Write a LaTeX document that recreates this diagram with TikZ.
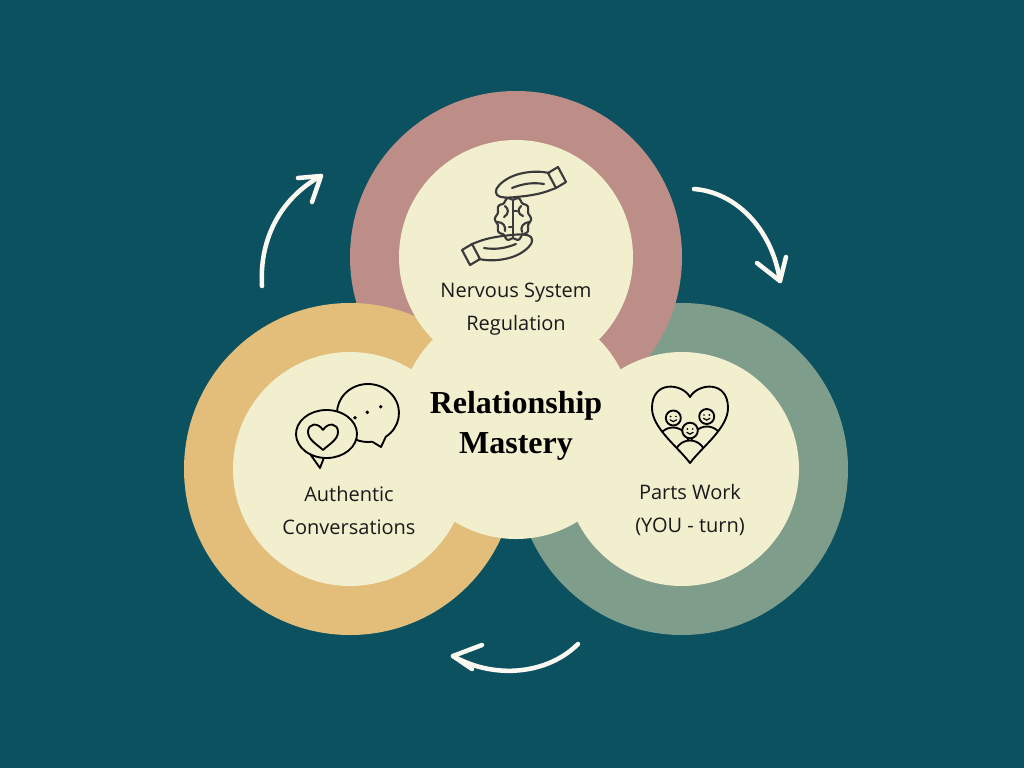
\documentclass[tikz,border=0pt]{standalone}
\usepackage{fontspec}
\usetikzlibrary{calc}
\setmainfont{Open Sans}
\newfontfamily\titlefont{Liberation Serif}
\definecolor{bg}{HTML}{0B5160}
\definecolor{rose}{HTML}{BC8E87}
\definecolor{gold}{HTML}{E3BE7A}
\definecolor{sage}{HTML}{7E9E8B}
\definecolor{cream}{HTML}{F2EFCF}
\definecolor{ink}{HTML}{1A1A1A}
\definecolor{icongray}{HTML}{3A3A3A}
\definecolor{arrowwhite}{HTML}{FAF8F0}
\newcommand{\myhandshape}{%
  \draw[iconline] (549,173) .. controls (536,170) and (516,172) .. (504,181)
     .. controls (497,186) and (494,191) .. (497,195)
     .. controls (500,198) and (508,198) .. (516,197)
     .. controls (528,196) and (540,194) .. (548,191)
     -- (556,188);
  \draw[iconline] (512,188) .. controls (522,184) and (532,182) .. (544,184);
  \draw[iconline] (548,173) -- (558,167) -- (566,182) -- (556,188) -- cycle;
}
\begin{document}
\begin{tikzpicture}[x=0.75pt,y=-0.75pt,
  label/.style={font=\fontsize{15}{24.75}\selectfont, align=center, text=ink, inner sep=0pt},
  titletext/.style={font=\titlefont\bfseries\fontsize{24}{30}\selectfont, align=center, text=black, inner sep=0pt},
  arr/.style={draw=arrowwhite, line width=3.4pt, line cap=round, line join=round},
  iconline/.style={draw=icongray, line width=1.6pt, line cap=round, line join=round},
  bubble/.style={draw=black, line width=1.4pt, line cap=round, line join=round},
]
\useasboundingbox (0,0) rectangle (1024,768);
\fill[bg] (0,0) rectangle (1024,768);

% outer rings
\fill[sage] (682,469) circle[radius=166];
\fill[rose] (516,257) circle[radius=166];
\fill[gold] (350,469) circle[radius=166];
% cream discs
\fill[cream] (516,257) circle[radius=117];
\fill[cream] (350,469) circle[radius=117];
\fill[cream] (682,469) circle[radius=117];
\fill[cream] (516,422) circle[radius=117];

% ---- brain in hands icon
\myhandshape
\begin{scope}[rotate around={180:(514,216)}]
  \myhandshape
\end{scope}
\draw[iconline] plot[domain=0:360, samples=150] ({513+17*(1+0.06*cos(10*\x))*cos(\x)}, {219+20.5*(1+0.06*cos(10*\x))*sin(\x)});
\draw[iconline] (513,201) -- (513,237);
\draw[iconline] (513,211) -- (517,211);
\draw[iconline] (509,227) -- (513,227);
\draw[iconline] (505,206) .. controls (509,209) and (509,214) .. (504,217);
\draw[iconline] (497,222) .. controls (503,222) and (506,226) .. (505,231);
\draw[iconline] (521,206) .. controls (517,210) and (518,214) .. (523,216);
\draw[iconline] (529,222) .. controls (523,223) and (520,227) .. (522,232);

% ---- speech bubbles icon
\draw[bubble, fill=cream] (381,447) -- ($(368,413)+(55:31 and 29)$) arc[start angle=55, end angle=-278, x radius=31, y radius=29] -- cycle;
\fill[black] (355,417.7) circle[radius=1.9];
\fill[black] (367.3,412.3) circle[radius=1.9];
\fill[black] (380.7,406.7) circle[radius=1.9];
\draw[bubble, fill=cream] (320,468) -- ($(326.5,434)+(122:30.5 and 24)$) arc[start angle=122, end angle=-265, x radius=30.5, y radius=24] -- cycle;
\draw[bubble] (323,430) .. controls (318,422) and (308,423) .. (308,432)
   .. controls (308,440) and (318,445) .. (323,450)
   .. controls (328,445) and (338,440) .. (338,432)
   .. controls (338,423) and (328,422) .. (323,430);

% ---- heart with people icon
\begin{scope}
  \clip (690,397) .. controls (682,383) and (652,380) .. (652,408)
     .. controls (652,428) and (678,447) .. (690,463)
     .. controls (702,447) and (728,428) .. (728,408)
     .. controls (728,380) and (698,383) .. (690,397);
  \draw[bubble] (673,443) circle[radius=15.5];
  \draw[bubble] (707,442) circle[radius=15.5];
  \draw[bubble, fill=cream] (690,456) circle[radius=15.5];
\end{scope}
\draw[bubble, fill=cream] (673.3,418) circle[radius=7.5];
\draw[bubble, fill=cream] (706.7,416.5) circle[radius=7.5];
\draw[bubble, fill=cream] (690,430.5) circle[radius=7.8];
\foreach \hx/\hy in {673.3/418, 706.7/416.5, 690/430.5}{
  \fill[black] (\hx-2.7,\hy-1.5) circle[radius=0.95];
  \fill[black] (\hx+2.7,\hy-1.5) circle[radius=0.95];
  \draw[black, line width=0.9pt, line cap=round] (\hx-3.2,\hy+1.8) .. controls (\hx-1.5,\hy+4.2) and (\hx+1.5,\hy+4.2) .. (\hx+3.2,\hy+1.8);
}
\draw[bubble] (690,397) .. controls (682,383) and (652,380) .. (652,408)
   .. controls (652,428) and (678,447) .. (690,463)
   .. controls (702,447) and (728,428) .. (728,408)
   .. controls (728,380) and (698,383) .. (690,397);

% ---- texts
\node[label] (nsr) at (516,309) {Nervous System\\Regulation};
\node[titletext] (rm) at (516,426) {Relationship\\Mastery};
\node[label] (ac) at (349,510) {Authentic\\Conversations};
\node[label] (pw) at (690,510) {Parts Work\\(YOU - turn)};

% ---- cycle arrows
\coordinate (a1s) at (262,286);
\coordinate (a1e) at (321,176);
\coordinate (a1b1) at (298,178);
\coordinate (a1b2) at (312,202);
\draw[arr] (a1s) .. controls (259,235) and (284,196) .. (a1e);
\draw[arr] (a1b1) -- (a1e) -- (a1b2);

\coordinate (a2s) at (694,189);
\coordinate (a2e) at (780,281);
\coordinate (a2b1) at (757,263);
\coordinate (a2b2) at (786,257);
\draw[arr] (a2s) .. controls (735,192) and (772,228) .. (a2e);
\draw[arr] (a2b1) -- (a2e) -- (a2b2);

\coordinate (a3s) at (578,644);
\coordinate (a3e) at (453,656);
\coordinate (a3b1) at (482,645);
\coordinate (a3b2) at (472,669);
\draw[arr] (a3s) .. controls (548,674) and (495,680) .. (a3e);
\draw[arr] (a3b1) -- (a3e) -- (a3b2);
\end{tikzpicture}
\end{document}
